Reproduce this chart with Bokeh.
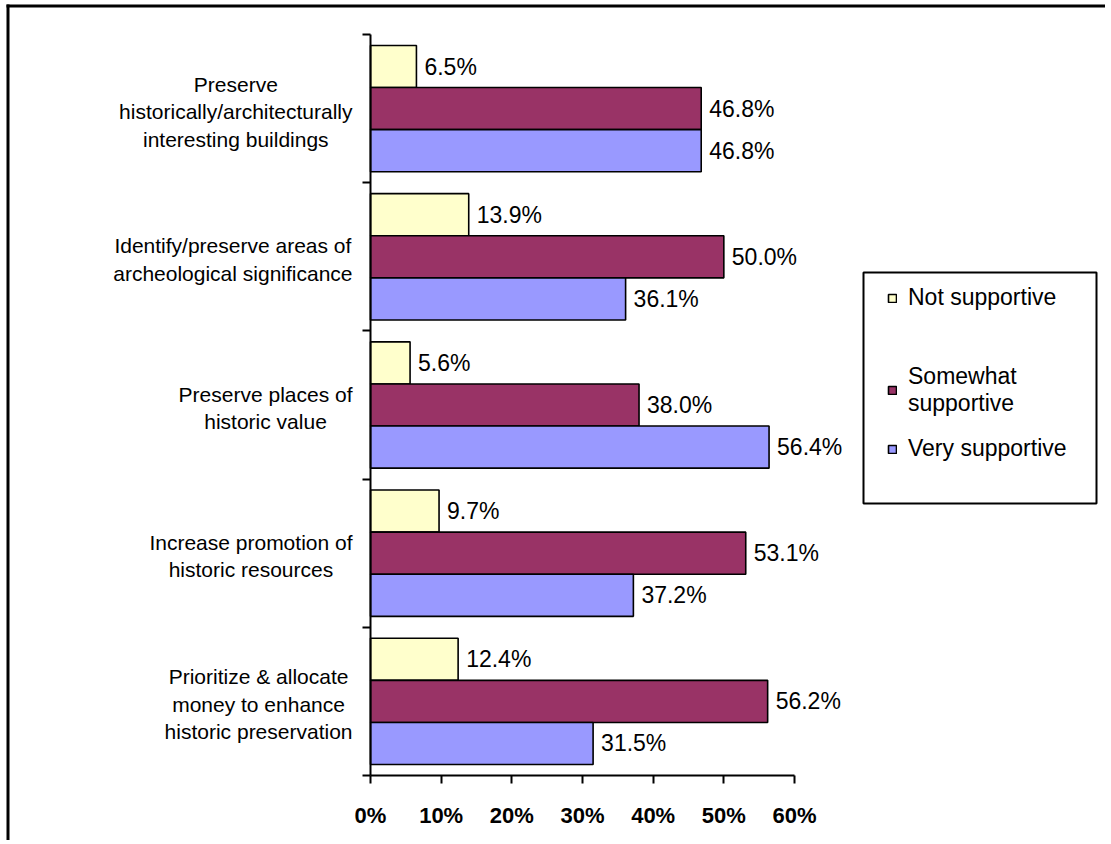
from bokeh.plotting import figure
from bokeh.models import (ColumnDataSource, Range1d, FixedTicker, LabelSet,
                          Legend, LegendItem, BoxAnnotation)
from bokeh.core.properties import value
from bokeh.embed import file_html
from bokeh.resources import INLINE

# ---------------- data ----------------
categories = [
    "Preserve\nhistorically/architecturally\ninteresting buildings",
    "Identify/preserve areas of\narcheological significance",
    "Preserve places of\nhistoric value",
    "Increase promotion of\nhistoric resources",
    "Prioritize & allocate\nmoney to enhance\nhistoric preservation",
]
series = ["Not supportive", "Somewhat\nsupportive", "Very supportive"]
not_supportive = [6.5, 13.9, 5.6, 9.7, 12.4]
somewhat_supportive = [46.8, 50.0, 38.0, 53.1, 56.2]
very_supportive = [46.8, 36.1, 56.4, 37.2, 31.5]
x_ticks = [0, 10, 20, 30, 40, 50, 60]
x_tick_labels = ["0%", "10%", "20%", "30%", "40%", "50%", "60%"]

# ---------------- styles ----------------
colors = ["#FFFFCC", "#993366", "#9999FF"]
bar_offsets = [0.284, 0.0, -0.284]
bar_h = 0.284
FONT = "Liberation Sans"
W, H = 1105, 840
n = len(categories)
AX_LEFT, AX_TOP, AX_BOTTOM = 370, 34, 775     # pixel position of the axes
PX_X = 424 / 60.0                              # px per percent
PX_Y = (AX_BOTTOM - AX_TOP) / n                # px per category
x_start = -AX_LEFT / PX_X
x_end = (W - AX_LEFT) / PX_X
y_start = -(H - AX_BOTTOM) / PX_Y
y_end = n + AX_TOP / PX_Y

# Arial / Liberation Sans advance widths (per 1000 em)
AW = {' ': 278, '&': 667, '/': 278, 'a': 556, 'b': 556, 'c': 500, 'd': 556,
      'e': 556, 'f': 278, 'g': 556, 'h': 556, 'i': 222, 'j': 222, 'k': 500,
      'l': 222, 'm': 833, 'n': 556, 'o': 556, 'p': 556, 'q': 556, 'r': 333,
      's': 500, 't': 278, 'u': 556, 'v': 500, 'w': 722, 'x': 500, 'y': 500,
      'z': 500, 'I': 278, 'P': 667}


def text_width(s, size):
    return sum(AW.get(c, 556) for c in s) * size / 1000.0


p = figure(width=W, height=H, min_border=0,
           x_range=Range1d(x_start, x_end), y_range=Range1d(y_start, y_end),
           output_backend="svg", toolbar_location=None)
p.grid.visible = False
p.outline_line_color = None
p.background_fill_color = "white"
p.border_fill_color = "white"

# x axis
xa = p.xaxis[0]
xa.fixed_location = 0
xa.ticker = FixedTicker(ticks=x_ticks)
xa.major_label_overrides = {t: l for t, l in zip(x_ticks, x_tick_labels)}
xa.bounds = (0, 60)
xa.axis_line_width = 2
xa.major_tick_line_width = 2
xa.major_tick_out = 8
xa.major_tick_in = 0
xa.minor_tick_line_color = None
xa.major_label_text_font = FONT
xa.major_label_text_font_style = "bold"
xa.major_label_text_font_size = "22px"
xa.major_label_text_color = "black"
xa.major_label_standoff = 19

# y axis (ticks at category boundaries)
ya = p.yaxis[0]
ya.fixed_location = 0
ya.ticker = FixedTicker(ticks=list(range(n + 1)))
ya.major_label_overrides = {i: "" for i in range(n + 1)}
ya.bounds = (0, n)
ya.axis_line_width = 2
ya.major_tick_line_width = 2
ya.major_tick_out = 8
ya.major_tick_in = 0
ya.minor_tick_line_color = None

centers = [n - i - 0.5 for i in range(n)]

# bars + data labels
renderers = []
for vals, color, off in zip([not_supportive, somewhat_supportive, very_supportive],
                            colors, bar_offsets):
    src = ColumnDataSource(dict(
        y=[c + off for c in centers],
        right=vals,
        label=[f"{v:.1f}%" for v in vals],
    ))
    r = p.hbar(y="y", left=0, right="right", height=bar_h, source=src,
               fill_color=color, line_color="black", line_width=1.6)
    renderers.append(r)
    p.add_layout(LabelSet(x="right", y="y", text="label", source=src,
                          x_offset=8, text_baseline="middle", text_align="left",
                          text_font=value(FONT), text_font_size="23px",
                          text_color="black"))

# category labels (centered lines, block right-aligned near the axis)
CAT_SIZE = 21
cat_offsets = [-(18 + max(text_width(line, CAT_SIZE) for line in c.split("\n")) / 2)
               for c in categories]
cat_src = ColumnDataSource(dict(x=[0] * n, y=centers, text=categories, xo=cat_offsets))
p.text(x="x", y="y", text="text", x_offset="xo", y_offset=3, source=cat_src,
       text_align="center", text_baseline="middle",
       text_font=value(FONT), text_font_size=f"{CAT_SIZE}px",
       text_line_height=1.2, text_color="black")

# legend box
p.add_layout(BoxAnnotation(left=863, right=1096, top=272, bottom=503,
                           left_units="canvas", right_units="canvas",
                           top_units="canvas", bottom_units="canvas",
                           fill_color="white", fill_alpha=1.0,
                           line_color="black", line_alpha=1.0, line_width=2))

common = dict(padding=0, margin=0, border_line_color=None,
              background_fill_alpha=0, glyph_width=10, glyph_height=10,
              label_standoff=11, label_text_font=FONT, label_text_color="black",
              label_text_font_size="23px", label_text_line_height=1.5,
              spacing=18)
leg_a = Legend(items=[LegendItem(label=series[0], renderers=[renderers[0]])],
               location=(887, H - 311), **common)
leg_b = Legend(items=[LegendItem(label=series[1], renderers=[renderers[1]]),
                      LegendItem(label=series[2], renderers=[renderers[2]])],
               location=(887, H - 462), **common)
p.add_layout(leg_a)
p.add_layout(leg_b)

# outer chart border: only its left and top edges are on the page
strip = dict(left_units="canvas", right_units="canvas", top_units="canvas",
             bottom_units="canvas", fill_color="black", fill_alpha=1.0,
             line_color=None)
p.add_layout(BoxAnnotation(left=6, right=9, top=4, bottom=H, **strip))
p.add_layout(BoxAnnotation(left=6, right=W, top=4, bottom=7, **strip))

open("out.html", "w").write(file_html(p, INLINE))
